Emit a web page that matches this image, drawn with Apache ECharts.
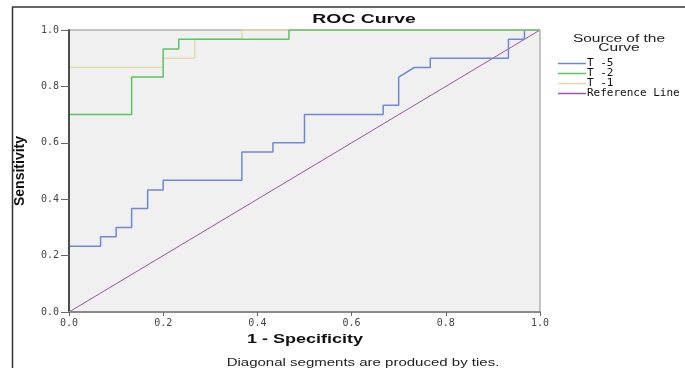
<!DOCTYPE html>
<html><head><meta charset="utf-8">
<script src="https://cdn.jsdelivr.net/npm/echarts@6/dist/echarts.min.js"></script>
<style>html,body{margin:0;padding:0;background:#fff}#c{width:685px;height:368px}</style>
</head><body><div id="c"></div>
<script>
var seriesNames = ['T -5', 'T -2', 'T -1', 'Reference Line'];
var t5X = [0,0,0.067,0.067,0.1,0.1,0.133,0.133,0.167,0.167,0.2,0.2,0.367,0.367,0.433,0.433,0.5,0.5,0.667,0.667,0.7,0.7,0.733,0.767,0.767,0.933,0.933,0.967,0.967,1];
var t5Y = [0,0.233,0.233,0.267,0.267,0.3,0.3,0.367,0.367,0.433,0.433,0.467,0.467,0.567,0.567,0.6,0.6,0.7,0.7,0.733,0.733,0.833,0.867,0.867,0.9,0.9,0.967,0.967,1,1];
var t2X = [0,0,0.133,0.133,0.2,0.2,0.233,0.233,0.467,0.467,1];
var t2Y = [0,0.7,0.7,0.833,0.833,0.933,0.933,0.967,0.967,1,1];
var t1X = [0,0,0.2,0.2,0.267,0.267,0.367,0.367,1];
var t1Y = [0,0.867,0.867,0.9,0.9,0.967,0.967,1,1];
var refX = [0,1];
var refY = [0,1];
var tickLabels = ['0.0','0.2','0.4','0.6','0.8','1.0'];

function zip(xs, ys){ return xs.map(function(x,i){ return [x, ys[i]]; }); }
var mono = 'DejaVu Sans Mono';
var chart = echarts.init(document.getElementById('c'), null, {renderer:'canvas'});
function axisLabel(){ return {fontFamily: mono, fontSize: 10, color:'#444',
  formatter: function(v){ return tickLabels[Math.round(v*5)]; }}; }
chart.setOption({
  animation:false,
  backgroundColor:'#fff',
  grid:{left:69,right:145,top:30,bottom:56,show:true,backgroundColor:'#f0f0f0',borderColor:'#8c8c8c',borderWidth:1},
  xAxis:{type:'value',min:0,max:1,interval:0.2,z:10,
    axisLine:{show:true,lineStyle:{color:'#8a8a8a',width:2}},
    axisTick:{show:true,length:4,lineStyle:{color:'#666'}},
    axisLabel:Object.assign(axisLabel(),{margin:6}),
    splitLine:{show:false}},
  yAxis:{type:'value',min:0,max:1,interval:0.2,z:10,
    name:'Sensitivity',nameLocation:'middle',nameGap:42,nameRotate:90,
    nameTextStyle:{fontFamily:'Liberation Sans Narrow, Liberation Sans',fontWeight:'bold',fontSize:14,color:'#111'},
    axisLine:{show:true,lineStyle:{color:'#4a4f4a',width:2}},
    axisTick:{show:true,length:8,lineStyle:{color:'#666'}},
    axisLabel:Object.assign(axisLabel(),{margin:10}),
    splitLine:{show:false}},
  legend:{orient:'vertical',left:553,top:53,itemWidth:28,itemHeight:1.5,itemGap:-1,icon:'rect',
    data:seriesNames,
    textStyle:{fontFamily:mono,fontSize:11,lineHeight:10,color:'#111',padding:[0,0,0,-4]}},
  series:[
    {name:'Reference Line',type:'line',z:1,data:zip(refX,refY),symbol:'none',lineStyle:{color:'#a052a8',width:1},itemStyle:{color:'#a052a8'}},
    {name:'T -5',type:'line',z:1,data:zip(t5X,t5Y),symbol:'none',lineStyle:{color:'#7088d0',width:1.5},itemStyle:{color:'#7088d0'}},
    {name:'T -1',type:'line',z:1,data:zip(t1X,t1Y),symbol:'none',lineStyle:{color:'#e2dcaa',width:1.5},itemStyle:{color:'#e2dcaa'}},
    {name:'T -2',type:'line',z:1,data:zip(t2X,t2Y),symbol:'none',lineStyle:{color:'#5cc462',width:1.5},itemStyle:{color:'#5cc462'}}
  ],
  graphic:[
    {type:'line',shape:{x1:12,y1:7,x2:685,y2:7},style:{stroke:'#333',lineWidth:1.5},silent:true},
    {type:'line',shape:{x1:12.5,y1:7,x2:12.5,y2:368},style:{stroke:'#333',lineWidth:1.5},silent:true},
    {type:'text',x:364,y:20,scaleX:1.55,style:{text:'ROC Curve',fontFamily:'Liberation Sans',fontWeight:'bold',fontSize:12.5,fill:'#111',textAlign:'center',textVerticalAlign:'middle'}},
    {type:'text',x:619,y:39,scaleX:1.55,style:{text:'Source of the',fontFamily:'Liberation Sans',fontSize:10,fill:'#222',textAlign:'center',textVerticalAlign:'middle'}},
    {type:'text',x:619,y:48,scaleX:1.55,style:{text:'Curve',fontFamily:'Liberation Sans',fontSize:10,fill:'#222',textAlign:'center',textVerticalAlign:'middle'}},
    {type:'text',x:305,y:340,scaleX:1.5,style:{text:'1 - Specificity',fontFamily:'Liberation Sans',fontWeight:'bold',fontSize:12,fill:'#111',textAlign:'center',textVerticalAlign:'middle'}},
    {type:'text',x:363,y:363,scaleX:1.5,style:{text:'Diagonal segments are produced by ties.',fontFamily:'Liberation Sans',fontSize:10,fill:'#222',textAlign:'center',textVerticalAlign:'middle'}}
  ]
});
</script></body></html>
